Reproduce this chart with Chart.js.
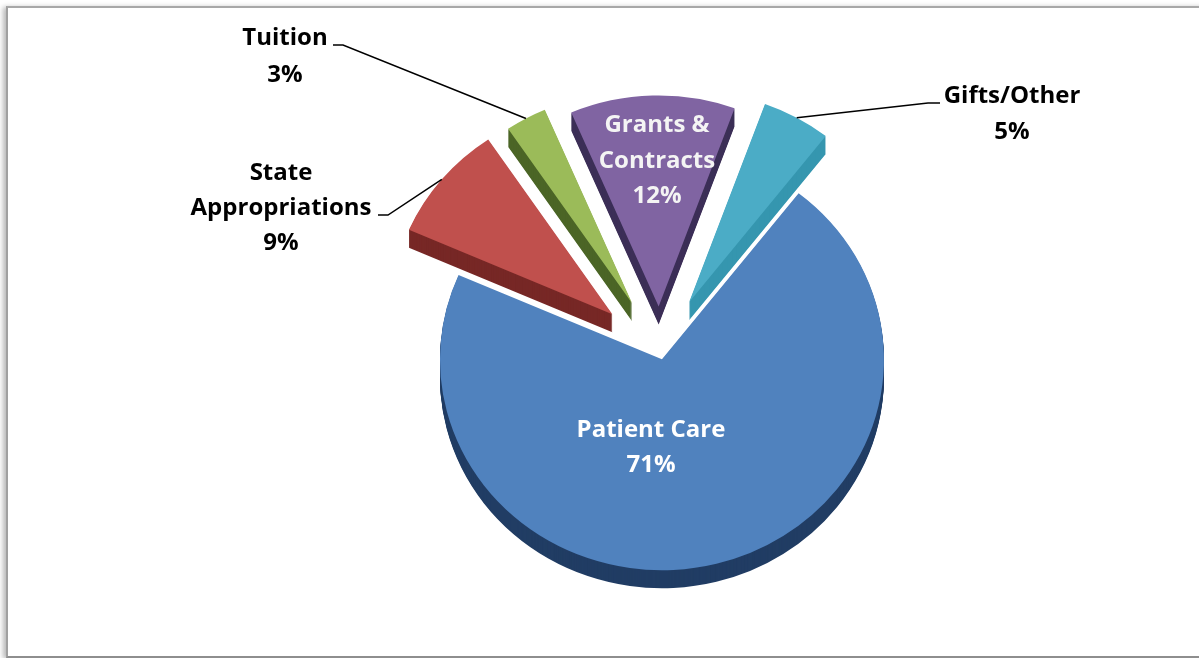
<!DOCTYPE html>
<html>
<head>
<meta charset="utf-8">
<script src="https://cdn.jsdelivr.net/npm/chart.js@4.4.1/dist/chart.umd.min.js"></script>
<style>
  html, body { margin: 0; padding: 0; background: #fff; overflow: hidden; }
  #wrap { position: relative; width: 1199px; height: 658px; }
  #frame {
    position: absolute; left: 6px; top: 6px; width: 1200px; height: 648px;
    border-top: 2px solid #a8a8a8; border-left: 2px solid #a0a0a0; border-bottom: 2px solid #8e8e8e;
    box-shadow: -3px 1px 5px rgba(0, 0, 0, 0.28);
  }
  #chart { position: absolute; left: 0; top: 0; }
</style>
</head>
<body>
<div id="wrap">
  <div id="frame"></div>
  <canvas id="chart" width="1199" height="658"></canvas>
</div>
<script>
// revenue sources, clockwise from the slice at the top right
const categories = ['Gifts/Other', 'Patient Care', ['State', 'Appropriations'], 'Tuition', ['Grants &', 'Contracts']];
const shares = [5, 71, 9, 3, 12];

const topColors = ['#4BACC6', '#5082BE', '#C0504D', '#9BBB59', '#8064A2'];
const sideColors = ['#3596AF', '#213D64', '#772826', '#4B6526', '#3C2F57'];
const explode = [60, 8, 62, 58, 48];   // px each slice is pulled out

const TILT = 0.95;   // vertical squash of the pie top
const DEPTH = 18;    // thickness of the 3d side

// where the texts go (x centre, baselines) and elbow of leader lines
const labelLayout = [
  { x: 1012, base: [103, 139], color: '#000', leader: [[928, 103], [940, 103]] },
  { x: 651, base: [437, 472], color: '#fff' },
  { x: 281, base: [180, 215, 250], color: '#000', leader: [[388, 215], [378, 215]] },
  { x: 285, base: [45, 82], color: '#000', leader: [[343, 45], [333, 45]] },
  { x: 657, base: [132, 168, 203], color: '#f4f4f4' }
];

function placeArc(ctx, arc, i, drop) {
  const mid = (arc.startAngle + arc.endAngle) / 2;
  ctx.translate(0, drop);
  ctx.translate(arc.x, arc.y);
  ctx.scale(1, TILT);
  ctx.translate(-arc.x, -arc.y);
  ctx.translate(Math.cos(mid) * explode[i], Math.sin(mid) * explode[i]);
}

const pie3d = {
  id: 'pie3d',
  beforeDatasetDraw(chart, args) {
    const ctx = chart.ctx;
    const arcs = args.meta.data;
    const sides = arcs.map((arc, i) => {
      const s = Object.create(arc);
      s.options = Object.assign({}, arc.options, { backgroundColor: sideColors[i] });
      return s;
    });
    for (let d = DEPTH; d >= 1; d--) {
      arcs.forEach((arc, i) => {
        ctx.save();
        placeArc(ctx, arc, i, d);
        sides[i].draw(ctx);
        ctx.restore();
      });
    }
    arcs.forEach((arc, i) => {
      ctx.save();
      placeArc(ctx, arc, i, 0);
      arc.draw(ctx);
      ctx.restore();
    });
    return false;
  },
  afterDraw(chart) {
    const ctx = chart.ctx;
    const arcs = chart.getDatasetMeta(0).data;
    ctx.save();
    ctx.font = 'bold 24px "Open Sans"';
    ctx.textAlign = 'center';
    ctx.textBaseline = 'alphabetic';
    arcs.forEach((arc, i) => {
      const lay = labelLayout[i];
      if (lay.leader) {
        const mid = (arc.startAngle + arc.endAngle) / 2;
        const r = arc.outerRadius + explode[i];
        const ax = arc.x + Math.cos(mid) * r;
        const ay = arc.y + Math.sin(mid) * r * TILT;
        ctx.beginPath();
        ctx.moveTo(ax, ay);
        lay.leader.forEach(p => ctx.lineTo(p[0], p[1]));
        ctx.strokeStyle = '#000';
        ctx.lineWidth = 1.5;
        ctx.stroke();
      }
      const lines = [].concat(categories[i], shares[i] + '%');
      ctx.fillStyle = lay.color;
      lines.forEach((t, j) => ctx.fillText(t, lay.x, lay.base[j]));
    });
    ctx.restore();
  }
};

new Chart(document.getElementById('chart').getContext('2d'), {
  type: 'pie',
  data: {
    labels: categories,
    datasets: [{
      data: shares,
      backgroundColor: topColors,
      borderWidth: 0
    }]
  },
  options: {
    responsive: false,
    animation: false,
    events: [],
    rotation: 20,
    radius: 222,
    layout: { padding: { left: 141, right: 20, top: 56, bottom: 10 } },
    plugins: {
      legend: { display: false },
      tooltip: { enabled: false }
    }
  },
  plugins: [pie3d]
});
</script>
</body>
</html>
